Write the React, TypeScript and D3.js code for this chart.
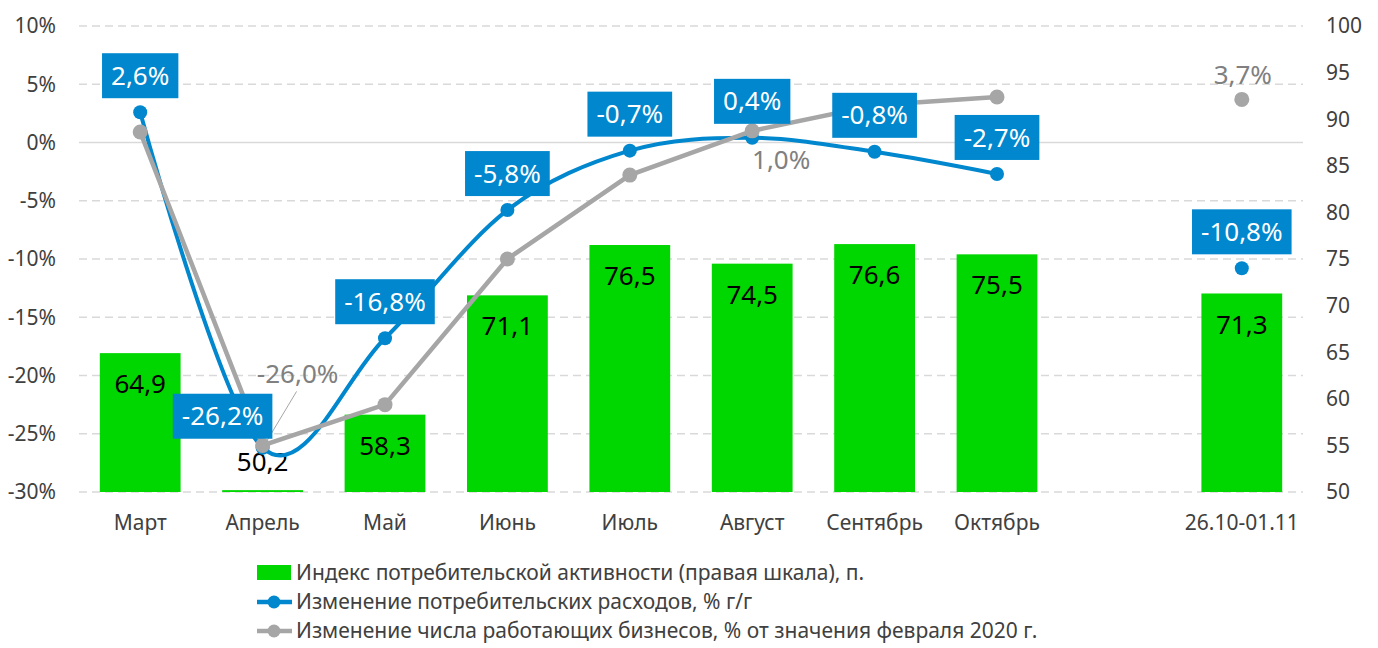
import * as d3 from 'd3';
import { useEffect, useRef } from 'react';

// categories (one empty slot before the last week)
const categories = ['Март', 'Апрель', 'Май', 'Июнь', 'Июль', 'Август', 'Сентябрь', 'Октябрь', '', '26.10-01.11'];
// consumer activity index (right axis), pts
const activityIndex = [64.9, 50.2, 58.3, 71.1, 76.5, 74.5, 76.6, 75.5, null, 71.3];
// consumer spending change, % y/y
const spendingChange = [2.6, -26.2, -16.8, -5.8, -0.7, 0.4, -0.8, -2.7, null, -10.8];
// working businesses change, % of Feb 2020
const businessChange = [0.9, -26.0, -22.5, -10.0, -2.8, 1.0, 3.2, 3.9, null, 3.7];
// which grey points get a label
const businessLabelIdx = [1, 5, 9];

const leftTicks = [10, 5, 0, -5, -10, -15, -20, -25, -30];
const rightTicks = [100, 95, 90, 85, 80, 75, 70, 65, 60, 55, 50];

const legendItems = [
  'Индекс потребительской активности (правая шкала), п.',
  'Изменение потребительских расходов, % г/г',
  'Изменение числа работающих бизнесов, % от значения февраля 2020 г.',
];

const width = 1378;
const height = 648;
const margin = { top: 26, bottom: 156, left: 79, right: 75 };
const FONT = "'Noto Sans', 'DejaVu Sans', sans-serif";
const BLUE = '#0087CD';
const GREY = '#A6A6A6';
const GREEN = '#00D600';
const AXIS_SIZE = '21px';
const LABEL_SIZE = '26px';

const fmt = (v: number) => v.toFixed(1).replace('.', ',');

export default function App() {
  const ref = useRef<SVGSVGElement>(null);

  useEffect(() => {
    const svg = d3.select(ref.current);
    svg.selectAll('*').remove();

    const x = d3
      .scaleBand<number>()
      .domain(d3.range(categories.length))
      .range([margin.left, width - margin.right])
      .paddingInner(0.34)
      .paddingOuter(0.17);
    const yL = d3.scaleLinear().domain([-30, 10]).range([height - margin.bottom, margin.top]);
    const yR = d3.scaleLinear().domain([50, 100]).range([height - margin.bottom, margin.top]);
    const cx = (i: number) => (x(i) as number) + x.bandwidth() / 2;

    // gridlines
    svg
      .append('g')
      .selectAll('line')
      .data(leftTicks)
      .join('line')
      .attr('x1', margin.left)
      .attr('x2', width - margin.right)
      .attr('y1', (d) => yL(d))
      .attr('y2', (d) => yL(d))
      .attr('stroke', '#D9D9D9')
      .attr('stroke-width', 1.5)
      .attr('stroke-dasharray', (d) => (d === 0 ? null : '8 5'));

    // left axis labels
    svg
      .append('g')
      .selectAll('text')
      .data(leftTicks)
      .join('text')
      .attr('x', 56)
      .attr('y', (d) => yL(d))
      .attr('dy', '0.35em')
      .attr('text-anchor', 'end')
      .style('font-family', FONT)
      .style('font-size', AXIS_SIZE)
      .attr('fill', '#404040')
      .text((d) => `${d}%`);

    // right axis labels
    svg
      .append('g')
      .selectAll('text')
      .data(rightTicks)
      .join('text')
      .attr('x', 1326)
      .attr('y', (d) => yR(d))
      .attr('dy', '0.35em')
      .style('font-family', FONT)
      .style('font-size', AXIS_SIZE)
      .attr('fill', '#404040')
      .text((d) => d);

    // category labels
    svg
      .append('g')
      .selectAll('text')
      .data(categories)
      .join('text')
      .attr('x', (d, i) => cx(i))
      .attr('y', 523)
      .attr('dy', '0.35em')
      .attr('text-anchor', 'middle')
      .style('font-family', FONT)
      .style('font-size', AXIS_SIZE)
      .attr('fill', '#404040')
      .text((d) => d);

    // bars
    const barData = activityIndex
      .map((v, i) => ({ v, i }))
      .filter((d) => d.v !== null) as { v: number; i: number }[];
    svg
      .append('g')
      .selectAll('rect')
      .data(barData)
      .join('rect')
      .attr('x', (d) => x(d.i) as number)
      .attr('width', x.bandwidth())
      .attr('y', (d) => yR(d.v))
      .attr('height', (d) => yR(50) - yR(d.v))
      .attr('fill', GREEN);

    // bar labels
    svg
      .append('g')
      .selectAll('text')
      .data(barData)
      .join('text')
      .attr('x', (d) => cx(d.i))
      .attr('y', (d) => (yR(50) - yR(d.v) > 50 ? yR(d.v) + 31 : yR(d.v) - 28))
      .attr('dy', '0.35em')
      .attr('text-anchor', 'middle')
      .style('font-family', FONT)
      .style('font-size', LABEL_SIZE)
      .attr('fill', '#000')
      .text((d) => fmt(d.v));

    const lineIdx = d3.range(8);

    // blue line (smoothed)
    const blueLine = d3
      .line<number>()
      .x((i) => cx(i))
      .y((i) => yL(spendingChange[i] as number))
      .curve(d3.curveCardinal.tension(0));
    svg
      .append('path')
      .attr('d', blueLine(lineIdx))
      .attr('fill', 'none')
      .attr('stroke', BLUE)
      .attr('stroke-width', 4);
    const bluePts = spendingChange.map((v, i) => ({ v, i })).filter((d) => d.v !== null) as { v: number; i: number }[];
    svg
      .append('g')
      .selectAll('circle')
      .data(bluePts)
      .join('circle')
      .attr('cx', (d) => cx(d.i))
      .attr('cy', (d) => yL(d.v))
      .attr('r', 7)
      .attr('fill', BLUE);

    // grey line (straight)
    const greyLine = d3
      .line<number>()
      .x((i) => cx(i))
      .y((i) => yL(businessChange[i] as number));
    svg
      .append('path')
      .attr('d', greyLine(lineIdx))
      .attr('fill', 'none')
      .attr('stroke', GREY)
      .attr('stroke-width', 4.5);
    const greyPts = businessChange.map((v, i) => ({ v, i })).filter((d) => d.v !== null) as { v: number; i: number }[];
    svg
      .append('g')
      .selectAll('circle')
      .data(greyPts)
      .join('circle')
      .attr('cx', (d) => cx(d.i))
      .attr('cy', (d) => yL(d.v))
      .attr('r', 7.5)
      .attr('fill', GREY);

    // grey labels
    const greyOffset: Record<number, [number, number]> = { 1: [35, -72], 5: [29, 29], 9: [1, -24] };
    businessLabelIdx.forEach((i) => {
      const v = businessChange[i] as number;
      const [dx, dy] = greyOffset[i];
      if (i === 1) {
        svg
          .append('line')
          .attr('x1', cx(i) + 34)
          .attr('y1', yL(v) - 54)
          .attr('x2', cx(i) + 4)
          .attr('y2', yL(v) - 4)
          .attr('stroke', GREY)
          .attr('stroke-width', 1);
      }
      svg
        .append('text')
        .attr('x', cx(i) + dx)
        .attr('y', yL(v) + dy)
        .attr('dy', '0.35em')
        .attr('text-anchor', 'middle')
        .style('font-family', FONT)
        .style('font-size', LABEL_SIZE)
        .attr('fill', '#808080')
        .text(`${fmt(v)}%`);
    });

    // blue labels in boxes
    bluePts.forEach((d) => {
      const shiftX = d.i === 1 ? -40 : 0;
      const gap = d.i === 1 ? 9 : 14;
      const g = svg.append('g');
      const rect = g.append('rect').attr('fill', BLUE);
      const t = g
        .append('text')
        .attr('x', cx(d.i) + shiftX)
        .attr('y', yL(d.v) - gap - 22.5)
        .attr('dy', '0.35em')
        .attr('text-anchor', 'middle')
        .style('font-family', FONT)
        .style('font-size', LABEL_SIZE)
        .attr('fill', '#fff')
        .text(`${fmt(d.v)}%`);
      const w = (t.node() as SVGTextElement).getComputedTextLength() + 18;
      rect
        .attr('x', cx(d.i) + shiftX - w / 2)
        .attr('y', yL(d.v) - gap - 45)
        .attr('width', w)
        .attr('height', 45);
    });

    // legend
    const lg = svg.append('g');
    const rowsY = [573, 602, 631];
    lg.append('rect').attr('x', 257).attr('y', rowsY[0] - 8).attr('width', 34).attr('height', 15).attr('fill', GREEN);
    [BLUE, GREY].forEach((c, k) => {
      lg.append('line')
        .attr('x1', 257)
        .attr('x2', 292)
        .attr('y1', rowsY[k + 1])
        .attr('y2', rowsY[k + 1])
        .attr('stroke', c)
        .attr('stroke-width', 4.5);
      lg.append('circle').attr('cx', 274).attr('cy', rowsY[k + 1]).attr('r', 6.5).attr('fill', c);
    });
    lg.selectAll('text')
      .data(legendItems)
      .join('text')
      .attr('x', 296)
      .attr('y', (d, k) => rowsY[k])
      .attr('dy', '0.35em')
      .style('font-family', FONT)
      .style('font-size', AXIS_SIZE)
      .attr('fill', '#404040')
      .text((d) => d);
  }, []);

  return (
    <svg
      ref={ref}
      width={width}
      height={height}
      style={{ position: 'absolute', left: 0, top: 0, background: '#fff' }}
    />
  );
}
